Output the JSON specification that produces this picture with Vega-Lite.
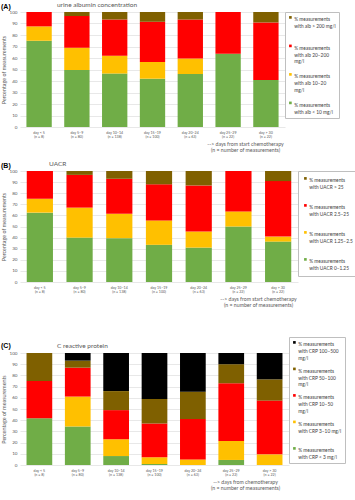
{
  "$schema": "https://vega.github.io/schema/vega-lite/v6.json",
  "padding": {"left": 1, "top": 1, "right": 0, "bottom": 0},
  "datasets": {
    "alb": [
      {"period": "day < 5|(n = 8)", "cls": "% measurements|with alb < 10 mg/l", "lvl": 1, "pct": 75},
      {"period": "day < 5|(n = 8)", "cls": "% measurements|with alb 10–20|mg/l", "lvl": 2, "pct": 12.5},
      {"period": "day < 5|(n = 8)", "cls": "% measurements|with alb 20–200|mg/l", "lvl": 3, "pct": 12.5},
      {"period": "day 5–9|(n = 80)", "cls": "% measurements|with alb < 10 mg/l", "lvl": 1, "pct": 49.5},
      {"period": "day 5–9|(n = 80)", "cls": "% measurements|with alb 10–20|mg/l", "lvl": 2, "pct": 19.5},
      {"period": "day 5–9|(n = 80)", "cls": "% measurements|with alb 20–200|mg/l", "lvl": 3, "pct": 27.5},
      {"period": "day 5–9|(n = 80)", "cls": "% measurements|with alb > 200 mg/l", "lvl": 4, "pct": 3.5},
      {"period": "day 10–14|(n = 138)", "cls": "% measurements|with alb < 10 mg/l", "lvl": 1, "pct": 46.5},
      {"period": "day 10–14|(n = 138)", "cls": "% measurements|with alb 10–20|mg/l", "lvl": 2, "pct": 15.5},
      {"period": "day 10–14|(n = 138)", "cls": "% measurements|with alb 20–200|mg/l", "lvl": 3, "pct": 31.5},
      {"period": "day 10–14|(n = 138)", "cls": "% measurements|with alb > 200 mg/l", "lvl": 4, "pct": 6.5},
      {"period": "day 15–19|(n = 100)", "cls": "% measurements|with alb < 10 mg/l", "lvl": 1, "pct": 42},
      {"period": "day 15–19|(n = 100)", "cls": "% measurements|with alb 10–20|mg/l", "lvl": 2, "pct": 14.5},
      {"period": "day 15–19|(n = 100)", "cls": "% measurements|with alb 20–200|mg/l", "lvl": 3, "pct": 35},
      {"period": "day 15–19|(n = 100)", "cls": "% measurements|with alb > 200 mg/l", "lvl": 4, "pct": 8.5},
      {"period": "day 20–24|(n = 63)", "cls": "% measurements|with alb < 10 mg/l", "lvl": 1, "pct": 46},
      {"period": "day 20–24|(n = 63)", "cls": "% measurements|with alb 10–20|mg/l", "lvl": 2, "pct": 13.5},
      {"period": "day 20–24|(n = 63)", "cls": "% measurements|with alb 20–200|mg/l", "lvl": 3, "pct": 34},
      {"period": "day 20–24|(n = 63)", "cls": "% measurements|with alb > 200 mg/l", "lvl": 4, "pct": 6.5},
      {"period": "day 25–29|(n = 22)", "cls": "% measurements|with alb < 10 mg/l", "lvl": 1, "pct": 63.6},
      {"period": "day 25–29|(n = 22)", "cls": "% measurements|with alb 20–200|mg/l", "lvl": 3, "pct": 36.4},
      {"period": "day > 30|(n = 22)", "cls": "% measurements|with alb < 10 mg/l", "lvl": 1, "pct": 40.9},
      {"period": "day > 30|(n = 22)", "cls": "% measurements|with alb 20–200|mg/l", "lvl": 3, "pct": 50},
      {"period": "day > 30|(n = 22)", "cls": "% measurements|with alb > 200 mg/l", "lvl": 4, "pct": 9.1}
    ],
    "uacr": [
      {"period": "day < 5|(n = 8)", "cls": "% measurements|with UACR 0–1.25", "lvl": 1, "pct": 62.5},
      {"period": "day < 5|(n = 8)", "cls": "% measurements|with UACR 1.25–2.5", "lvl": 2, "pct": 12.5},
      {"period": "day < 5|(n = 8)", "cls": "% measurements|with UACR 2.5–25", "lvl": 3, "pct": 25},
      {"period": "day 5–9|(n = 80)", "cls": "% measurements|with UACR 0–1.25", "lvl": 1, "pct": 40},
      {"period": "day 5–9|(n = 80)", "cls": "% measurements|with UACR 1.25–2.5", "lvl": 2, "pct": 27},
      {"period": "day 5–9|(n = 80)", "cls": "% measurements|with UACR 2.5–25", "lvl": 3, "pct": 29.5},
      {"period": "day 5–9|(n = 80)", "cls": "% measurements|with UACR > 25", "lvl": 4, "pct": 3.5},
      {"period": "day 10–14|(n = 138)", "cls": "% measurements|with UACR 0–1.25", "lvl": 1, "pct": 39.5},
      {"period": "day 10–14|(n = 138)", "cls": "% measurements|with UACR 1.25–2.5", "lvl": 2, "pct": 22},
      {"period": "day 10–14|(n = 138)", "cls": "% measurements|with UACR 2.5–25", "lvl": 3, "pct": 31.5},
      {"period": "day 10–14|(n = 138)", "cls": "% measurements|with UACR > 25", "lvl": 4, "pct": 7},
      {"period": "day 15–19|(n = 100)", "cls": "% measurements|with UACR 0–1.25", "lvl": 1, "pct": 33.5},
      {"period": "day 15–19|(n = 100)", "cls": "% measurements|with UACR 1.25–2.5", "lvl": 2, "pct": 22},
      {"period": "day 15–19|(n = 100)", "cls": "% measurements|with UACR 2.5–25", "lvl": 3, "pct": 32.5},
      {"period": "day 15–19|(n = 100)", "cls": "% measurements|with UACR > 25", "lvl": 4, "pct": 12},
      {"period": "day 20–24|(n = 63)", "cls": "% measurements|with UACR 0–1.25", "lvl": 1, "pct": 31},
      {"period": "day 20–24|(n = 63)", "cls": "% measurements|with UACR 1.25–2.5", "lvl": 2, "pct": 14.5},
      {"period": "day 20–24|(n = 63)", "cls": "% measurements|with UACR 2.5–25", "lvl": 3, "pct": 41.5},
      {"period": "day 20–24|(n = 63)", "cls": "% measurements|with UACR > 25", "lvl": 4, "pct": 13},
      {"period": "day 25–29|(n = 22)", "cls": "% measurements|with UACR 0–1.25", "lvl": 1, "pct": 50},
      {"period": "day 25–29|(n = 22)", "cls": "% measurements|with UACR 1.25–2.5", "lvl": 2, "pct": 13.6},
      {"period": "day 25–29|(n = 22)", "cls": "% measurements|with UACR 2.5–25", "lvl": 3, "pct": 36.4},
      {"period": "day > 30|(n = 22)", "cls": "% measurements|with UACR 0–1.25", "lvl": 1, "pct": 36.4},
      {"period": "day > 30|(n = 22)", "cls": "% measurements|with UACR 1.25–2.5", "lvl": 2, "pct": 4.5},
      {"period": "day > 30|(n = 22)", "cls": "% measurements|with UACR 2.5–25", "lvl": 3, "pct": 50},
      {"period": "day > 30|(n = 22)", "cls": "% measurements|with UACR > 25", "lvl": 4, "pct": 9.1}
    ],
    "crp": [
      {"period": "day < 5|(n = 8)", "cls": "% measurements|with CRP < 3 mg/l", "lvl": 1, "pct": 41.7},
      {"period": "day < 5|(n = 8)", "cls": "% measurements|with CRP 10–50|mg/l", "lvl": 3, "pct": 33.3},
      {"period": "day < 5|(n = 8)", "cls": "% measurements|with CRP 50–100|mg/l", "lvl": 4, "pct": 25},
      {"period": "day 5–9|(n = 80)", "cls": "% measurements|with CRP < 3 mg/l", "lvl": 1, "pct": 34.4},
      {"period": "day 5–9|(n = 80)", "cls": "% measurements|with CRP 3–10 mg/l", "lvl": 2, "pct": 26.7},
      {"period": "day 5–9|(n = 80)", "cls": "% measurements|with CRP 10–50|mg/l", "lvl": 3, "pct": 25.8},
      {"period": "day 5–9|(n = 80)", "cls": "% measurements|with CRP 50–100|mg/l", "lvl": 4, "pct": 6.3},
      {"period": "day 5–9|(n = 80)", "cls": "% measurements|with CRP 100–500|mg/l", "lvl": 5, "pct": 6.8},
      {"period": "day 10–14|(n = 138)", "cls": "% measurements|with CRP < 3 mg/l", "lvl": 1, "pct": 8},
      {"period": "day 10–14|(n = 138)", "cls": "% measurements|with CRP 3–10 mg/l", "lvl": 2, "pct": 15},
      {"period": "day 10–14|(n = 138)", "cls": "% measurements|with CRP 10–50|mg/l", "lvl": 3, "pct": 26},
      {"period": "day 10–14|(n = 138)", "cls": "% measurements|with CRP 50–100|mg/l", "lvl": 4, "pct": 17},
      {"period": "day 10–14|(n = 138)", "cls": "% measurements|with CRP 100–500|mg/l", "lvl": 5, "pct": 34},
      {"period": "day 15–19|(n = 100)", "cls": "% measurements|with CRP < 3 mg/l", "lvl": 1, "pct": 1},
      {"period": "day 15–19|(n = 100)", "cls": "% measurements|with CRP 3–10 mg/l", "lvl": 2, "pct": 6},
      {"period": "day 15–19|(n = 100)", "cls": "% measurements|with CRP 10–50|mg/l", "lvl": 3, "pct": 30},
      {"period": "day 15–19|(n = 100)", "cls": "% measurements|with CRP 50–100|mg/l", "lvl": 4, "pct": 22},
      {"period": "day 15–19|(n = 100)", "cls": "% measurements|with CRP 100–500|mg/l", "lvl": 5, "pct": 41},
      {"period": "day 20–24|(n = 63)", "cls": "% measurements|with CRP 3–10 mg/l", "lvl": 2, "pct": 5},
      {"period": "day 20–24|(n = 63)", "cls": "% measurements|with CRP 10–50|mg/l", "lvl": 3, "pct": 36},
      {"period": "day 20–24|(n = 63)", "cls": "% measurements|with CRP 50–100|mg/l", "lvl": 4, "pct": 24.5},
      {"period": "day 20–24|(n = 63)", "cls": "% measurements|with CRP 100–500|mg/l", "lvl": 5, "pct": 34.5},
      {"period": "day 25–29|(n = 22)", "cls": "% measurements|with CRP < 3 mg/l", "lvl": 1, "pct": 4.5},
      {"period": "day 25–29|(n = 22)", "cls": "% measurements|with CRP 3–10 mg/l", "lvl": 2, "pct": 17},
      {"period": "day 25–29|(n = 22)", "cls": "% measurements|with CRP 10–50|mg/l", "lvl": 3, "pct": 51.5},
      {"period": "day 25–29|(n = 22)", "cls": "% measurements|with CRP 50–100|mg/l", "lvl": 4, "pct": 17},
      {"period": "day 25–29|(n = 22)", "cls": "% measurements|with CRP 100–500|mg/l", "lvl": 5, "pct": 10},
      {"period": "day > 30|(n = 22)", "cls": "% measurements|with CRP 3–10 mg/l", "lvl": 2, "pct": 9.5},
      {"period": "day > 30|(n = 22)", "cls": "% measurements|with CRP 10–50|mg/l", "lvl": 3, "pct": 48},
      {"period": "day > 30|(n = 22)", "cls": "% measurements|with CRP 50–100|mg/l", "lvl": 4, "pct": 19},
      {"period": "day > 30|(n = 22)", "cls": "% measurements|with CRP 100–500|mg/l", "lvl": 5, "pct": 23.5}
    ]
  },
  "config": {
    "font": "Lato",
    "view": {"stroke": null},
    "bar": {"stroke": null},
    "axis": {"labelColor": "#595959", "titleColor": "#595959", "domain": false, "ticks": false, "gridColor": "#d9d9d9", "gridWidth": 0.6, "titleFontWeight": "normal"},
    "axisX": {"grid": false, "labelAngle": 0, "labelFontSize": 3.6, "labelLineHeight": 4.8, "labelPadding": 3, "titleFontSize": 5.2, "titleLineHeight": 6.5, "titlePadding": 3, "titleAlign": "center"},
    "axisY": {"labelFontSize": 4.6, "titleFontSize": 5.4, "labelPadding": 3, "titlePadding": 3},
    "title": {"font": "Lato", "fontSize": 6.5, "fontWeight": "normal", "color": "#595959"},
    "legend": {"orient": "right", "offset": 0, "padding": 3, "strokeColor": "#bfbfbf", "fillColor": "white", "symbolType": "square", "symbolSize": 7, "symbolStrokeWidth": 0, "labelFontSize": 4.8, "labelColor": "#404040", "labelLimit": 200, "labelOffset": 1.5, "labelBaseline": "top", "rowPadding": 7.5, "gridAlign": "all"}
  },
  "spacing": 27,
  "resolve": {"scale": {"color": "independent", "x": "independent"}, "legend": {"color": "independent"}},
  "vconcat": [
    {
      "spacing": 6,
      "resolve": {"scale": {"color": "independent", "x": "independent"}, "legend": {"color": "independent"}},
      "vconcat": [
        {
          "title": {"text": "(A)", "anchor": "start", "frame": "bounds", "offset": -8, "font": "Liberation Sans", "fontSize": 7, "fontWeight": "bold", "color": "#000000"},
          "vconcat": [
            {
              "data": {"name": "alb"},
              "title": {"text": "urine albumin concentration", "anchor": "start", "frame": "group", "dx": 37, "offset": 1},
              "width": 265,
              "height": 115,
              "mark": {"type": "bar"},
              "encoding": {
                "x": {"field": "period", "type": "nominal", "sort": ["day < 5|(n = 8)", "day 5–9|(n = 80)", "day 10–14|(n = 138)", "day 15–19|(n = 100)", "day 20–24|(n = 63)", "day 25–29|(n = 22)", "day > 30|(n = 22)"], "scale": {"paddingInner": 0.33, "paddingOuter": 0.17}, "axis": {"labelExpr": "split(datum.label, '|')", "title": ["--> days from start chemotherapy", "(n = number of measurements)"], "titleX": 225}},
                "y": {"field": "pct", "type": "quantitative", "stack": "zero", "scale": {"domain": [0, 100], "nice": false}, "axis": {"title": "Percentage of measurements", "values": [0, 10, 20, 30, 40, 50, 60, 70, 80, 90, 100]}},
                "color": {"field": "cls", "type": "nominal", "scale": {"domain": ["% measurements|with alb > 200 mg/l", "% measurements|with alb 20–200|mg/l", "% measurements|with alb 10–20|mg/l", "% measurements|with alb < 10 mg/l"], "range": ["#7f6000", "#ff0000", "#ffc000", "#70ad47"]}, "legend": {"title": null, "labelExpr": "split(datum.label, '|')", "encode": {"labels": {"update": {"lineHeight": {"value": 6}}}}}},
                "order": {"field": "lvl", "type": "quantitative", "sort": "ascending"}
              }
            }
          ]
        },
        {
          "title": {"text": "(B)", "anchor": "start", "frame": "bounds", "offset": -8, "font": "Liberation Sans", "fontSize": 7, "fontWeight": "bold", "color": "#000000"},
          "vconcat": [
            {
              "data": {"name": "uacr"},
              "title": {"text": "UACR", "anchor": "start", "frame": "group", "dx": 29, "offset": 1},
              "width": 278,
              "height": 111,
              "mark": {"type": "bar"},
              "encoding": {
                "x": {"field": "period", "type": "nominal", "sort": ["day < 5|(n = 8)", "day 5–9|(n = 80)", "day 10–14|(n = 138)", "day 15–19|(n = 100)", "day 20–24|(n = 63)", "day 25–29|(n = 22)", "day > 30|(n = 22)"], "scale": {"paddingInner": 0.34, "paddingOuter": 0.17}, "axis": {"labelExpr": "split(datum.label, '|')", "title": ["--> days from start chemotherapy", "(n = number of measurements)"], "titleX": 238}},
                "y": {"field": "pct", "type": "quantitative", "stack": "zero", "scale": {"domain": [0, 100], "nice": false}, "axis": {"title": "Percentage of measurements", "values": [0, 10, 20, 30, 40, 50, 60, 70, 80, 90, 100]}},
                "color": {"field": "cls", "type": "nominal", "scale": {"domain": ["% measurements|with UACR > 25", "% measurements|with UACR 2.5–25", "% measurements|with UACR 1.25–2.5", "% measurements|with UACR 0–1.25"], "range": ["#7f6000", "#ff0000", "#ffc000", "#70ad47"]}, "legend": {"title": null, "labelExpr": "split(datum.label, '|')", "rowPadding": 13, "padding": 5, "encode": {"labels": {"update": {"lineHeight": {"value": 6}}}}}},
                "order": {"field": "lvl", "type": "quantitative", "sort": "ascending"}
              }
            }
          ]
        }
      ]
    },
    {
      "title": {"text": "(C)", "anchor": "start", "frame": "bounds", "offset": -12, "font": "Liberation Sans", "fontSize": 7, "fontWeight": "bold", "color": "#000000"},
      "vconcat": [
        {
          "data": {"name": "crp"},
          "title": {"text": "C reactive protein", "anchor": "start", "frame": "group", "dx": 37, "offset": 1},
          "width": 269,
          "height": 112,
          "mark": {"type": "bar"},
          "encoding": {
            "x": {"field": "period", "type": "nominal", "sort": ["day < 5|(n = 8)", "day 5–9|(n = 80)", "day 10–14|(n = 138)", "day 15–19|(n = 100)", "day 20–24|(n = 63)", "day 25–29|(n = 22)", "day > 30|(n = 22)"], "scale": {"paddingInner": 0.33, "paddingOuter": 0.17}, "axis": {"labelExpr": "split(datum.label, '|')", "title": ["--> days from chemotherapy", "(n = number of measurements)"], "titleX": 225}},
            "y": {"field": "pct", "type": "quantitative", "stack": "zero", "scale": {"domain": [0, 100], "nice": false}, "axis": {"title": "Percentage of measurements", "values": [0, 10, 20, 30, 40, 50, 60, 70, 80, 90, 100]}},
            "color": {"field": "cls", "type": "nominal", "scale": {"domain": ["% measurements|with CRP 100–500|mg/l", "% measurements|with CRP 50–100|mg/l", "% measurements|with CRP 10–50|mg/l", "% measurements|with CRP 3–10 mg/l", "% measurements|with CRP < 3 mg/l"], "range": ["#000000", "#7f6000", "#ff0000", "#ffc000", "#70ad47"]}, "legend": {"title": null, "labelExpr": "split(datum.label, '|')", "rowPadding": 5.5, "orient": "none", "legendX": 269, "legendY": -16, "encode": {"labels": {"update": {"lineHeight": {"value": 6}}}}}},
            "order": {"field": "lvl", "type": "quantitative", "sort": "ascending"}
          }
        }
      ]
    }
  ]
}
